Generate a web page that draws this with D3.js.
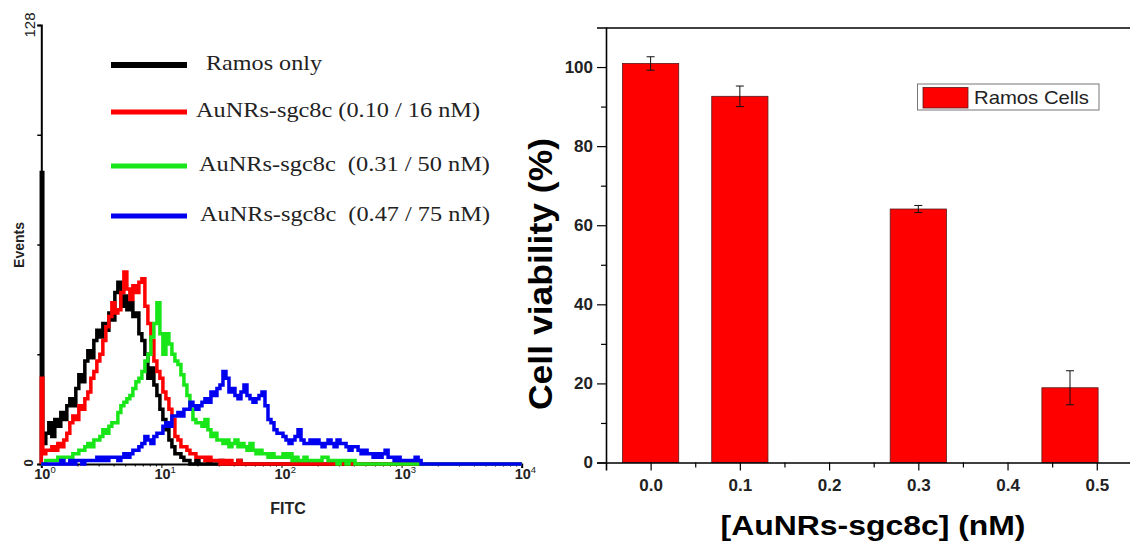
<!DOCTYPE html>
<html>
<head>
<meta charset="utf-8">
<script src="https://cdn.jsdelivr.net/npm/d3@7"></script>
<style>
  body { margin: 0; background: #fff; }
  svg { display: block; }
  text { white-space: pre; }
</style>
</head>
<body>
<div id="chart"></div>
<script>
// flow histogram: one count per channel, channels are 0.025 decade wide, starting at 10^0
let histStep = 0.025
let blackCounts = [85,6,9,12,8,13,11,15,13,17,19,17,22,26,24,30,33,31,36,39,37,41,39,44,42,50,53,46,49,45,47,43,44,38,36,32,25,28,23,20,16,13,10,7,5,3,3,2,1,1,0,0,1,0,0,0,1,0,0,0,1,0,0,0,0,0,1,0,0,0,0,0]
let redCounts = [25,3,4,4,5,4,6,5,7,9,12,14,13,17,16,19,21,25,27,30,32,36,40,43,47,44,45,50,56,51,48,52,50,53,54,46,41,36,30,27,25,21,19,16,13,8,7,5,5,4,3,3,2,2,2,1,2,1,1,1,0,1,0,1,0,0,1,0,0,0]
let greenCounts = [0,0,1,1,1,1,2,1,2,2,2,3,3,4,4,5,6,5,7,7,8,10,9,11,12,12,15,17,18,19,20,22,24,25,27,30,32,37,41,47,38,32,38,35,32,30,29,26,23,20,16,13,12,12,11,13,10,8,9,7,7,6,7,5,6,7,5,6,5,4,6,4,3,4,3,3,2,3,2,2,2,3,2,3,1,2,1,1,2,1,1,1,1,1,2,2,1,1,1,0,1,1,0,1,1,0]
let blueCounts = [0,0,0,0,0,0,0,1,0,0,1,0,1,1,0,1,1,1,1,2,1,2,1,2,2,2,1,2,3,2,3,4,4,5,6,8,7,6,8,9,9,11,12,11,14,14,15,14,16,16,18,17,16,17,18,19,18,21,20,22,23,27,25,21,22,20,19,21,23,20,19,18,19,20,21,17,13,12,10,9,9,8,7,6,7,8,10,7,6,6,7,6,7,6,5,6,7,6,5,7,6,6,5,4,5,5,4,3,4,3,3,2,3,2,3,4,2,2,1,2,1,1,1,1,1,2,1,0]
let histLabels = ["Ramos only", "AuNRs-sgc8c (0.10 / 16 nM)", "AuNRs-sgc8c  (0.31 / 50 nM)", "AuNRs-sgc8c  (0.47 / 75 nM)"]
let histColors = ["#000000", "#ff0000", "#19e619", "#0000f0"]
let decades = [1, 10, 100, 1000, 10000]
let eventTicks = [0, 32, 64, 96, 128]

// cell viability bars
let concentrations = [0.0, 0.10, 0.30, 0.47]
let viability = [100.9, 92.6, 64.1, 18.9]
let viabilityErr = [1.7, 2.6, 0.9, 4.3]
let concTicks = [0, 0.1, 0.2, 0.3, 0.4, 0.5]
let concMinor = [0.05, 0.15, 0.25, 0.35, 0.45, 0.55]
let viabilityTicks = [0, 20, 40, 60, 80, 100]
let viabilityMinor = [10, 30, 50, 70, 90]

let sans = "Liberation Sans, Arial, sans-serif"

let svg = d3.select("#chart").append("svg")
    .attr("width", 1130)
    .attr("height", 544)

// ---------- left: histogram overlay ----------
let xL = d3.scaleLog().domain([1, 10000]).range([41.3, 521.7])
let yL = d3.scaleLinear().domain([0, 128]).range([464, 25])

let histPanel = svg.append("g")

// y axis (ticks only, 0 and 128 labelled sideways)
let yAxisL = histPanel.append("g")
    .attr("transform", "translate(41.3,0)")
    .call(d3.axisLeft(yL).tickValues(eventTicks).tickSize(4).tickFormat(""))
yAxisL.select(".domain").attr("stroke-width", 2)
yAxisL.selectAll(".tick line").attr("stroke-width", 1.5)

histPanel.append("text")
    .attr("transform", "translate(35," + yL(128) + ") rotate(-90)")
    .attr("text-anchor", "middle")
    .style("font-family", sans)
    .style("font-size", "15px")
    .style("fill", "#222")
    .text(128)
histPanel.append("text")
    .attr("transform", "translate(33," + (yL(0) - 1) + ") rotate(-90)")
    .attr("text-anchor", "middle")
    .style("font-family", sans)
    .style("font-size", "13px")
    .style("font-weight", "bold")
    .style("fill", "#222")
    .text(0)

histPanel.append("text")
    .attr("transform", "translate(24,245) rotate(-90)")
    .attr("text-anchor", "middle")
    .style("font-family", sans)
    .style("font-size", "14px")
    .style("font-weight", "bold")
    .style("fill", "#222")
    .text("Events")

// x axis
let minorL = []
for (let d = 0; d < 4; d++) {
    for (let k = 2; k < 10; k++) minorL.push(k * Math.pow(10, d))
}
let xAxisL = histPanel.append("g")
    .attr("transform", "translate(0,464)")
    .call(d3.axisBottom(xL).tickValues(decades).tickSize(4).tickFormat(""))
xAxisL.select(".domain").attr("stroke-width", 2)
histPanel.append("g")
    .attr("transform", "translate(0,464)")
    .call(d3.axisBottom(xL).tickValues(minorL).tickSize(2.5).tickFormat(""))
    .select(".domain").remove()

let decLabels = histPanel.selectAll(".xlab")
    .data(decades)
    .enter()
    .append("text")
    .attr("class", "xlab")
    .attr("x", d => xL(d) - 7)
    .attr("y", 479)
    .style("font-family", sans)
    .style("font-size", "14.5px")
    .style("font-weight", "bold")
    .style("fill", "#222")
decLabels.append("tspan").text("10")
decLabels.append("tspan")
    .attr("dy", -6)
    .style("font-size", "9.5px")
    .style("font-weight", "normal")
    .text(d => Math.round(Math.log10(d)))

histPanel.append("text")
    .attr("x", 288)
    .attr("y", 514)
    .attr("text-anchor", "middle")
    .style("font-family", sans)
    .style("font-size", "16px")
    .style("font-weight", "bold")
    .style("fill", "#222")
    .text("FITC")

let histLine = d3.line()
    .x(d => xL(d[0]))
    .y(d => yL(d[1]))
    .curve(d3.curveStep)

function toPoints(counts) {
    let pts = [[1, 0]]
    counts.forEach((c, i) => pts.push([Math.pow(10, i * histStep), c]))
    pts.push([10000, 0])
    return pts
}

let histSeries = [blackCounts, redCounts, greenCounts, blueCounts]
histPanel.selectAll(".hist")
    .data(histSeries)
    .enter()
    .append("path")
    .attr("class", "hist")
    .attr("d", d => histLine(toPoints(d)))
    .attr("fill", "none")
    .attr("stroke", (d, i) => histColors[i])
    .attr("stroke-width", 3.5)
    .attr("stroke-linejoin", "miter")

// legend
let legendY = [65, 112, 166, 216]
let legendTextX = [206, 196, 199, 200]
let legendTextW = [116, 284, 291, 290]
let legL = histPanel.selectAll(".leg")
    .data(histLabels)
    .enter()
    .append("g")
    .attr("class", "leg")
legL.append("line")
    .attr("x1", 111).attr("x2", 187)
    .attr("y1", (d, i) => legendY[i]).attr("y2", (d, i) => legendY[i])
    .attr("stroke", (d, i) => histColors[i])
    .attr("stroke-width", (d, i) => i == 0 ? 6 : 5)
legL.append("text")
    .attr("x", (d, i) => legendTextX[i])
    .attr("y", (d, i) => legendY[i] + 5)
    .attr("textLength", (d, i) => legendTextW[i])
    .attr("lengthAdjust", "spacingAndGlyphs")
    .style("font-family", "Liberation Serif, Times New Roman, serif")
    .style("font-size", "22px")
    .style("fill", "#222")
    .text(d => d)

// ---------- right: viability bars ----------
let xR = d3.scaleLinear().domain([-0.05, 0.6]).range([606, 1186])
let yR = d3.scaleLinear().domain([0, 110]).range([462.5, 27.5])
let barPanel = svg.append("g")
let halfBar = 0.0315

barPanel.selectAll(".bar")
    .data(concentrations)
    .enter()
    .append("rect")
    .attr("class", "bar")
    .attr("x", d => xR(d - halfBar))
    .attr("width", d => xR(d + halfBar) - xR(d - halfBar))
    .attr("y", (d, i) => yR(viability[i]))
    .attr("height", (d, i) => yR(0) - yR(viability[i]))
    .attr("fill", "#ff0000")
    .attr("stroke", "#5a1a1a")
    .attr("stroke-width", 0.8)

// error bars
let errG = barPanel.selectAll(".err")
    .data(concentrations)
    .enter()
    .append("g")
    .attr("class", "err")
    .attr("stroke", "#111")
    .attr("stroke-width", 1)
errG.append("line")
    .attr("x1", d => xR(d)).attr("x2", d => xR(d))
    .attr("y1", (d, i) => yR(viability[i] - viabilityErr[i]))
    .attr("y2", (d, i) => yR(viability[i] + viabilityErr[i]))
errG.append("line")
    .attr("x1", d => xR(d) - 4).attr("x2", d => xR(d) + 4)
    .attr("y1", (d, i) => yR(viability[i] + viabilityErr[i]))
    .attr("y2", (d, i) => yR(viability[i] + viabilityErr[i]))
errG.append("line")
    .attr("x1", d => xR(d) - 4).attr("x2", d => xR(d) + 4)
    .attr("y1", (d, i) => yR(viability[i] - viabilityErr[i]))
    .attr("y2", (d, i) => yR(viability[i] - viabilityErr[i]))

// axes
barPanel.append("g")
    .attr("transform", "translate(606,0)")
    .call(d3.axisLeft(yR).tickValues(viabilityTicks).tickSize(9).tickPadding(4))
barPanel.append("g")
    .attr("transform", "translate(606,0)")
    .call(d3.axisLeft(yR).tickValues(viabilityMinor).tickSize(5).tickFormat(""))
    .select(".domain").remove()
barPanel.append("g")
    .attr("transform", "translate(0,462.5)")
    .call(d3.axisBottom(xR).tickValues(concTicks).tickSize(8).tickPadding(8).tickFormat(d3.format(".1f")))
barPanel.append("g")
    .attr("transform", "translate(0,462.5)")
    .call(d3.axisBottom(xR).tickValues(concMinor).tickSize(5).tickFormat(""))
    .select(".domain").remove()
barPanel.append("g")
    .attr("transform", "translate(0,27.5)")
    .call(d3.axisTop(xR).tickValues([]).tickSizeOuter(0))

barPanel.selectAll(".domain").attr("stroke-width", 1.6)
barPanel.selectAll(".tick line").attr("stroke-width", 1.2)
barPanel.selectAll(".tick text")
    .style("font-family", sans)
    .style("font-size", "17px")
    .style("font-weight", "bold")
    .style("fill", "#222")

barPanel.append("text")
    .attr("transform", "translate(552,274) rotate(-90)")
    .attr("text-anchor", "middle")
    .attr("textLength", 272)
    .attr("lengthAdjust", "spacingAndGlyphs")
    .style("font-family", sans)
    .style("font-size", "34px")
    .style("font-weight", "bold")
    .text("Cell viability (%)")

barPanel.append("text")
    .attr("x", 873)
    .attr("y", 535)
    .attr("text-anchor", "middle")
    .attr("textLength", 305)
    .attr("lengthAdjust", "spacingAndGlyphs")
    .style("font-family", sans)
    .style("font-size", "27px")
    .style("font-weight", "bold")
    .text("[AuNRs-sgc8c] (nM)")

// legend box
let legR = barPanel.append("g")
legR.append("rect")
    .attr("x", 917.5).attr("y", 84)
    .attr("width", 181.5).attr("height", 26)
    .attr("fill", "#fff")
    .attr("stroke", "#777")
    .attr("stroke-width", 1)
legR.append("rect")
    .attr("x", 923).attr("y", 87.5)
    .attr("width", 45).attr("height", 20.5)
    .attr("fill", "#ff0000")
    .attr("stroke", "#5a1a1a")
    .attr("stroke-width", 0.8)
legR.append("text")
    .attr("x", 974)
    .attr("y", 104)
    .attr("textLength", 115)
    .attr("lengthAdjust", "spacingAndGlyphs")
    .style("font-family", sans)
    .style("font-size", "19px")
    .style("fill", "#222")
    .text("Ramos Cells")
</script>
</body>
</html>
